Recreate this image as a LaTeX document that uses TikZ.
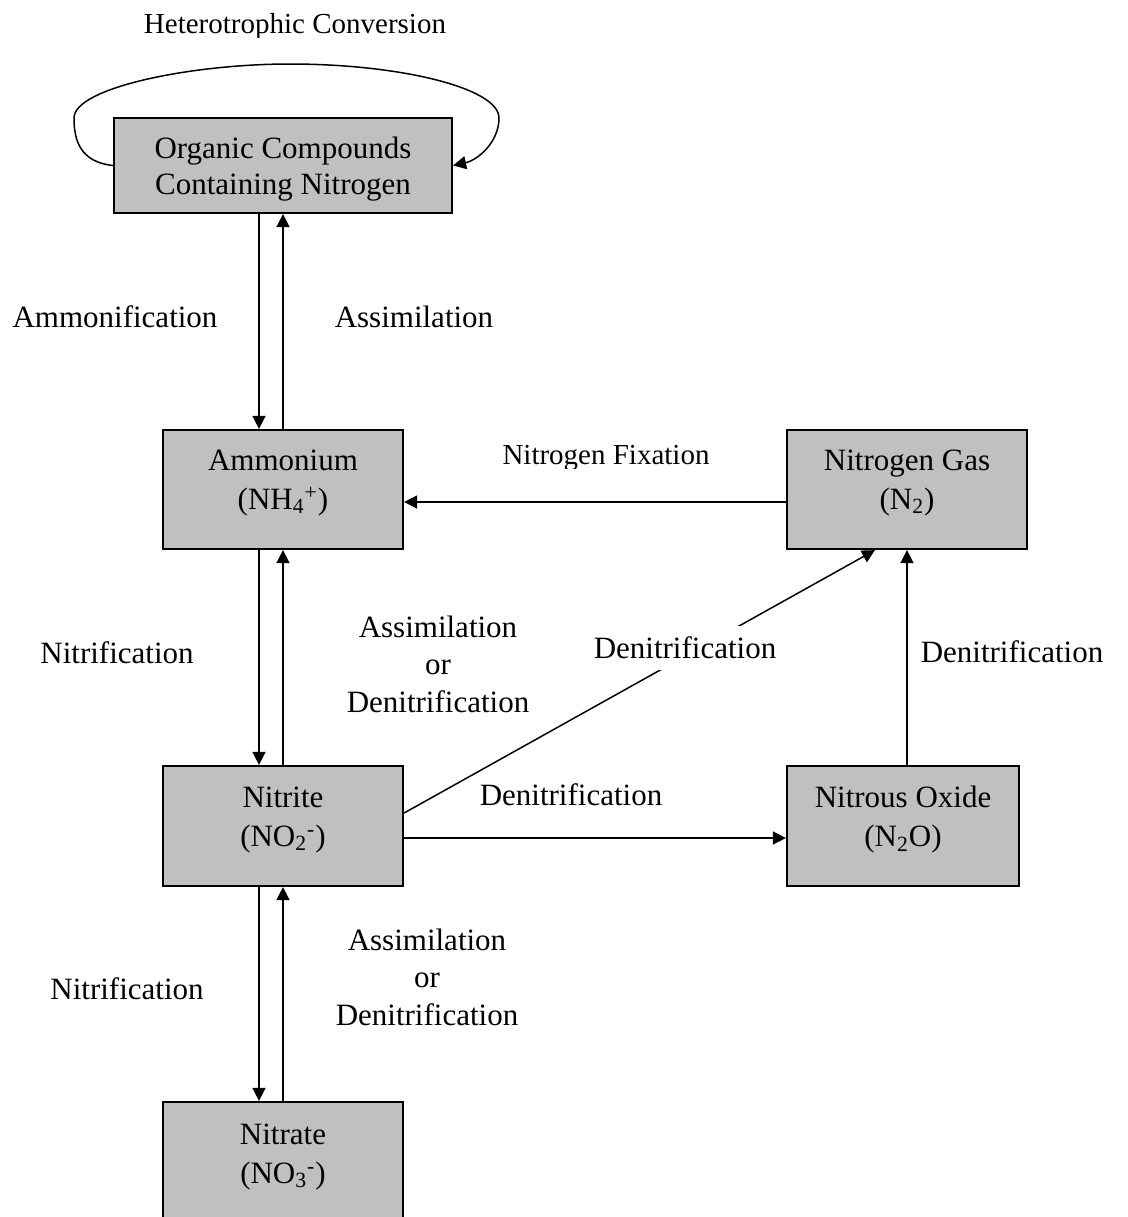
\documentclass[tikz,border=0pt]{standalone}
\usepackage{fontspec}
\setmainfont{Liberation Serif}
\usetikzlibrary{arrows.meta}
\definecolor{boxgray}{RGB}{192,192,192}
\begin{document}
\begin{tikzpicture}[x=0.5pt,y=-0.5pt,
  box/.style={draw, line width=1.1pt, fill=boxgray, inner sep=0pt},
  txt/.style={align=center, font=\fontsize{15.5pt}{18.5pt}\selectfont, inner sep=0pt},
  chem/.style={align=center, font=\fontsize{15.5pt}{19.5pt}\selectfont, inner sep=0pt},
  small/.style={align=center, font=\fontsize{14.5pt}{18pt}\selectfont, inner sep=0pt},
  arr/.style={line width=0.75pt, -{Triangle[length=6.5pt,width=6.5pt]}}]
\useasboundingbox (0,0) rectangle (1128,1217);
\clip (0,0) rectangle (1128,1217);
\fill[white] (0,0) rectangle (1128,1217);

% boxes
\node[box, minimum width=169pt, minimum height=47.5pt] (org) at (283,165.5) {};
\node[box, minimum width=120pt, minimum height=59.5pt] (amm) at (283,489.5) {};
\node[box, minimum width=120pt, minimum height=59.5pt] (ngas) at (907,489.5) {};
\node[box, minimum width=120pt, minimum height=60pt] (nite) at (283,826) {};
\node[box, minimum width=116pt, minimum height=60pt] (nox) at (903,826) {};
\node[box, minimum width=120pt, minimum height=60pt] (nate) at (283,1162) {};

% box texts
\node[txt, font=\fontsize{15.5pt}{18pt}\selectfont] (orgT) at (283,169) {Organic Compounds\\Containing Nitrogen};
\node[chem] (ammT) at (283,483) {Ammonium\\(NH\textsubscript{4}\textsuperscript{+})};
\node[chem] (ngasT) at (907,483) {Nitrogen Gas\\(N\textsubscript{2})};
\node[chem] (niteT) at (283,820) {Nitrite\\(NO\textsubscript{2}\textsuperscript{-})};
\node[chem] (noxT) at (903,820) {Nitrous Oxide\\(N\textsubscript{2}O)};
\node[chem] (nateT) at (283,1157) {Nitrate\\(NO\textsubscript{3}\textsuperscript{-})};

% helper coordinates
\coordinate (xa) at (259,0);
\coordinate (xb) at (283,0);
\coordinate (yf) at (0,502);
\coordinate (yd) at (0,838);
\coordinate (ydg) at (0,813);
\coordinate (xdg) at (875,0);
\coordinate (xv) at (907,0);

% connectors
\draw[arr] (org.west) .. controls (80,162) and (74,140) .. (74,118)
  .. controls (74,88) and (190,64) .. (290,64)
  .. controls (400,64) and (499,88) .. (499,118)
  .. controls (499,142) and (478,160) .. (org.east);
\draw[arr] (xa |- org.south) -- (xa |- amm.north);
\draw[arr] (xb |- amm.north) -- (xb |- org.south);
\draw[arr] (xa |- amm.south) -- (xa |- nite.north);
\draw[arr] (xb |- nite.north) -- (xb |- amm.south);
\draw[arr] (xa |- nite.south) -- (xa |- nate.north);
\draw[arr] (xb |- nate.north) -- (xb |- nite.south);
\draw[arr] (ngas.west |- yf) -- (amm.east |- yf);
\draw[arr] (nite.east |- yd) -- (nox.west |- yd);
\draw[arr] (nite.east |- ydg) -- (xdg |- ngas.south);
\draw[arr] (xv |- nox.north) -- (xv |- ngas.south);

% labels
\begin{scope}
\clip (100,0) rectangle (500,37);
\node[small] (hetl) at (295,27) {Heterotrophic Conversion};
\end{scope}
\begin{scope}
\clip (480,430) rectangle (740,468);
\node[small] (fixl) at (606,458) {Nitrogen Fixation};
\end{scope}
\node[txt] (ammonl) at (115,317) {Ammonification};
\node[txt] (assim1) at (414,317) {Assimilation};
\node[txt] (nitr1) at (117,653) {Nitrification};
\node[txt, font=\fontsize{15.5pt}{18.75pt}\selectfont] (ad1) at (438,664) {Assimilation\\or\\Denitrification};
\node[txt, fill=white, inner xsep=2pt, inner ysep=5.25pt] (den1) at (685,648) {Denitrification};
\node[txt] (den2) at (1012,652) {Denitrification};
\node[txt] (den3) at (571,795) {Denitrification};
\node[txt] (nitr2) at (127,989) {Nitrification};
\node[txt, font=\fontsize{15.5pt}{18.75pt}\selectfont] (ad2) at (427,977) {Assimilation\\or\\Denitrification};
\end{tikzpicture}
\end{document}
